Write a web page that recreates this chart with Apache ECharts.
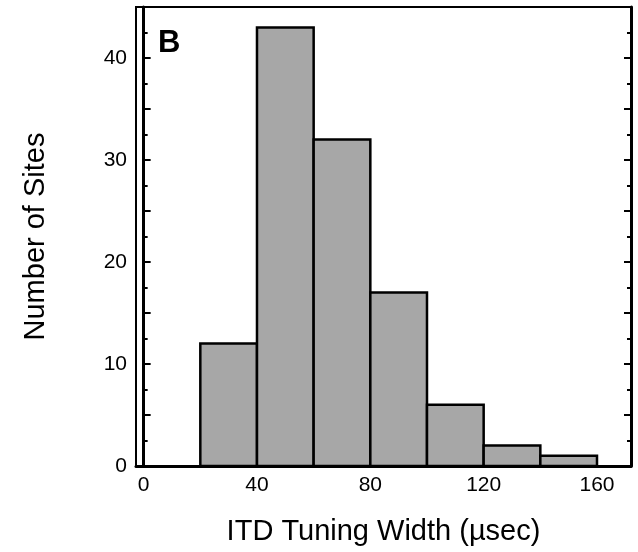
<!DOCTYPE html>
<html>
<head>
<meta charset="utf-8">
<script src="https://cdn.jsdelivr.net/npm/echarts@6/dist/echarts.min.js"></script>
<style>
  html, body { margin: 0; padding: 0; background: #fff; }
  #chart { width: 638px; height: 552px; }
</style>
</head>
<body>
<div id="chart"></div>
<script>
// Histogram of ITD tuning widths (bin edges in microseconds, counts per bin)
const binEdges = [20, 40, 60, 80, 100, 120, 140, 160];
const siteCounts = [12, 43, 32, 17, 6, 2, 1];
const xTickLabels = [0, 40, 80, 120, 160];
const yTickLabels = [0, 10, 20, 30, 40];
const panelLetter = 'B';

const bins = siteCounts.map((c, i) => [binEdges[i], binEdges[i + 1], c]);

const FONT = '"Liberation Sans", Arial, Helvetica, sans-serif';

const chart = echarts.init(document.getElementById('chart'), null, { renderer: 'canvas' });

const yAxisCommon = {
  type: 'value',
  min: 0,
  max: 45,
  interval: 5,
  splitLine: { show: false },
  axisLine: { show: true, lineStyle: { color: '#000', width: 3 } },
  axisTick: { show: true, inside: true, length: 7, lineStyle: { color: '#000', width: 2 } },
  minorTick: { show: true, splitNumber: 2, length: 4, lineStyle: { color: '#000', width: 2 } },
  minorSplitLine: { show: false }
};

chart.setOption({
  animation: false,
  backgroundColor: '#fff',
  grid: {
    left: 136, right: 7, top: 7, bottom: 86,
    show: true, borderColor: '#000', borderWidth: 2, backgroundColor: 'transparent'
  },
  xAxis: [{
    type: 'value',
    min: -2.7,
    max: 172,
    position: 'bottom',
    name: 'ITD Tuning Width (\u00b5sec)',
    nameLocation: 'middle',
    nameGap: 51,
    nameTextStyle: { fontFamily: FONT, fontSize: 29, color: '#000' },
    splitLine: { show: false },
    axisLine: { show: true, onZero: false, lineStyle: { color: '#000', width: 3 } },
    axisTick: { show: false },
    axisLabel: {
      customValues: xTickLabels,
      fontFamily: FONT, fontSize: 21, color: '#000', margin: 9
    }
  }],
  yAxis: [
    Object.assign({}, yAxisCommon, {
      position: 'left',
      name: 'Number of Sites',
      nameLocation: 'middle',
      nameGap: 86,
      nameTextStyle: { fontFamily: FONT, fontSize: 29, color: '#000' },
      axisLabel: { customValues: yTickLabels, fontFamily: FONT, fontSize: 21, color: '#000', margin: 9 }
    }),
    Object.assign({}, yAxisCommon, {
      position: 'right',
      axisLabel: { show: false }
    })
  ],
  graphic: [{
    type: 'text',
    left: 158,
    top: 28,
    style: { text: panelLetter, font: 'bold 31px ' + FONT, fill: '#000' }
  }],
  series: [{
    type: 'custom',
    xAxisIndex: 0,
    yAxisIndex: 0,
    data: bins,
    encode: { x: [0, 1], y: 2 },
    renderItem: function (params, api) {
      const top = api.coord([api.value(0), api.value(2)]);
      const base = api.coord([api.value(1), 0]);
      return {
        type: 'rect',
        shape: { x: top[0], y: top[1], width: base[0] - top[0], height: base[1] - top[1] },
        style: { fill: '#a7a7a7', stroke: '#000', lineWidth: 2.5 }
      };
    }
  }]
});
</script>
</body>
</html>
